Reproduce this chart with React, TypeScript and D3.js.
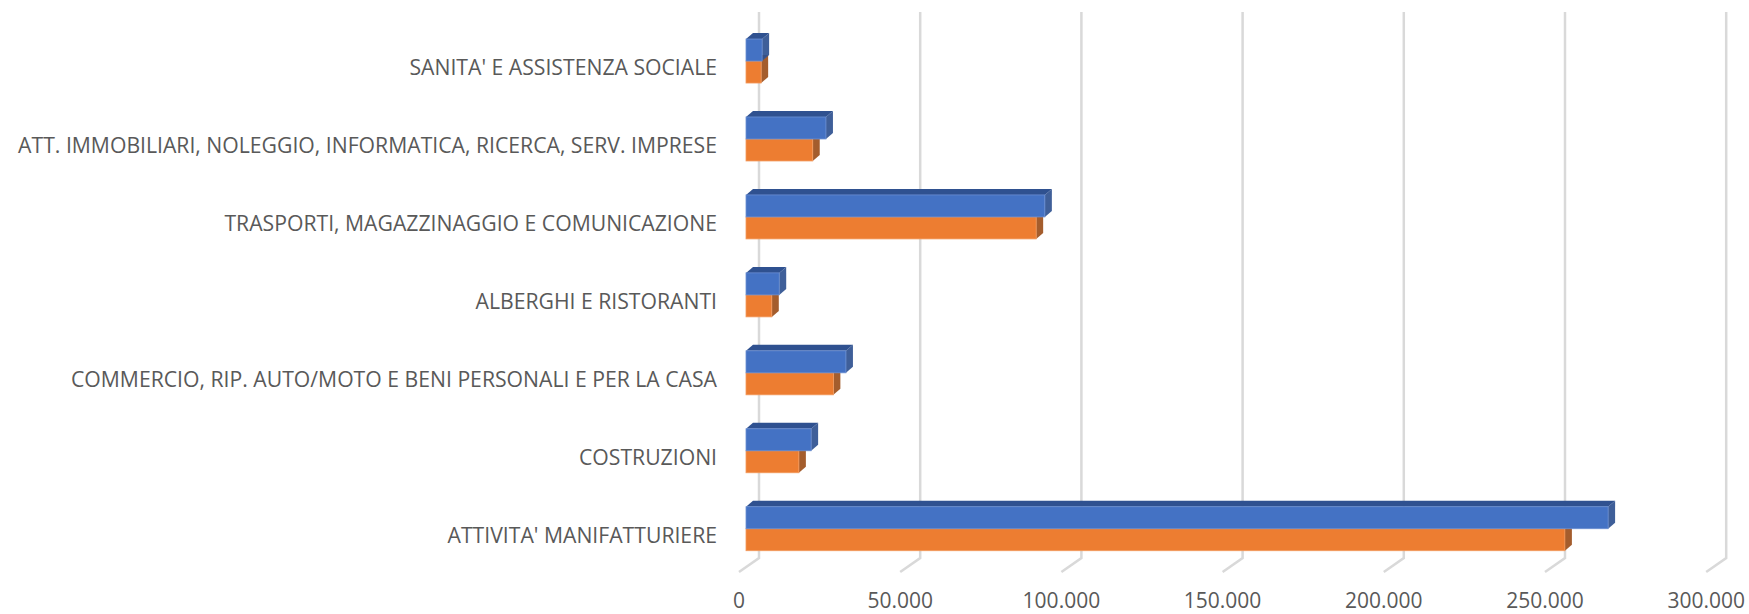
import * as d3 from 'd3';

// categories listed bottom to top, as Excel draws them
const categories = [
    "ATTIVITA' MANIFATTURIERE",
    'COSTRUZIONI',
    'COMMERCIO, RIP. AUTO/MOTO E BENI PERSONALI E PER LA CASA',
    'ALBERGHI E RISTORANTI',
    'TRASPORTI, MAGAZZINAGGIO E COMUNICAZIONE',
    'ATT. IMMOBILIARI, NOLEGGIO, INFORMATICA, RICERCA, SERV. IMPRESE',
    "SANITA' E ASSISTENZA SOCIALE",
];
const blueValues = [267400, 20200, 31000, 10300, 92700, 24800, 5000];
const orangeValues = [254000, 16400, 27100, 8000, 90000, 20700, 4700];
const ticks = [0, 50000, 100000, 150000, 200000, 250000, 300000];

const W = 1749;
const H = 614;
const backX0 = 759; // zero on the back wall
const frontX0 = 746; // zero on the bar front faces
const wallTop = 12;
const wallBottom = 558;
const floorDx = -20;
const floorDy = 14;
const barH = 22;
const depthDx = 7;
const depthDy = -6;

const fmt = (v: number) => d3.format(',')(v).replace(/,/g, '.');

export default function App() {
    const x = d3.scaleLinear().domain([0, 300000]).range([0, 967.2]);
    const y = d3.scaleBand<string>()
        .domain([...categories].reverse())
        .range([22.05, 567.7])
        .padding(0);
    const mid = (c: string) => (y(c) ?? 0) + y.bandwidth() / 2;

    const bar = (x1: number, yTop: number, front: string, dark: string, edge: string, key: string) => {
        const x0 = frontX0;
        const yb = yTop + barH;
        const top = `M${x0},${yTop} L${x0 + depthDx},${yTop + depthDy} L${x1 + depthDx},${yTop + depthDy} L${x1},${yTop} Z`;
        const side = `M${x1},${yTop} L${x1 + depthDx},${yTop + depthDy} L${x1 + depthDx},${yb + depthDy} L${x1},${yb} Z`;
        return (
            <g key={key}>
                <path d={top} fill={dark} />
                <path d={side} fill={dark} opacity={0.92} />
                <rect x={x0} y={yTop} width={x1 - x0} height={barH} fill={front} stroke={edge} strokeWidth={0.8} />
            </g>
        );
    };

    return (
        <div style={{ position: 'absolute', left: 0, top: 0 }}>
            <svg width={W} height={H} style={{ display: 'block', background: '#fff' }}>
                {/* back wall gridlines with the floor step */}
                {ticks.map(t => {
                    const gx = backX0 + x(t);
                    return (
                        <path key={t}
                            d={`M${gx},${wallTop} L${gx},${wallBottom} L${gx + floorDx},${wallBottom + floorDy}`}
                            fill="none" stroke="#d9d9d9" strokeWidth={2.5} />
                    );
                })}
                {ticks.map(t => (
                    <text key={'t' + t} x={backX0 + x(t) + floorDx} y={608}
                        textAnchor="middle" fontFamily="'Open Sans', sans-serif" fontSize={21} fill="#595959">
                        {fmt(t)}
                    </text>
                ))}
                {categories.map((c, i) => {
                    const cy = mid(c);
                    const ox = frontX0 + x(orangeValues[i]);
                    const bx = frontX0 + x(blueValues[i]);
                    return (
                        <g key={c}>
                            {bar(ox, cy, '#ed7d31', '#9c4f1b', '#f29a5e', 'o')}
                            {bar(bx, cy - barH, '#4472c4', '#2f5190', '#6b8fd2', 'b')}
                        </g>
                    );
                })}
                {categories.map(c => (
                    <text key={'l' + c} x={717} y={mid(c) + 14} textAnchor="end"
                        fontFamily="'Open Sans', sans-serif" fontSize={21.2} fill="#595959">
                        {c}
                    </text>
                ))}
            </svg>
        </div>
    );
}
